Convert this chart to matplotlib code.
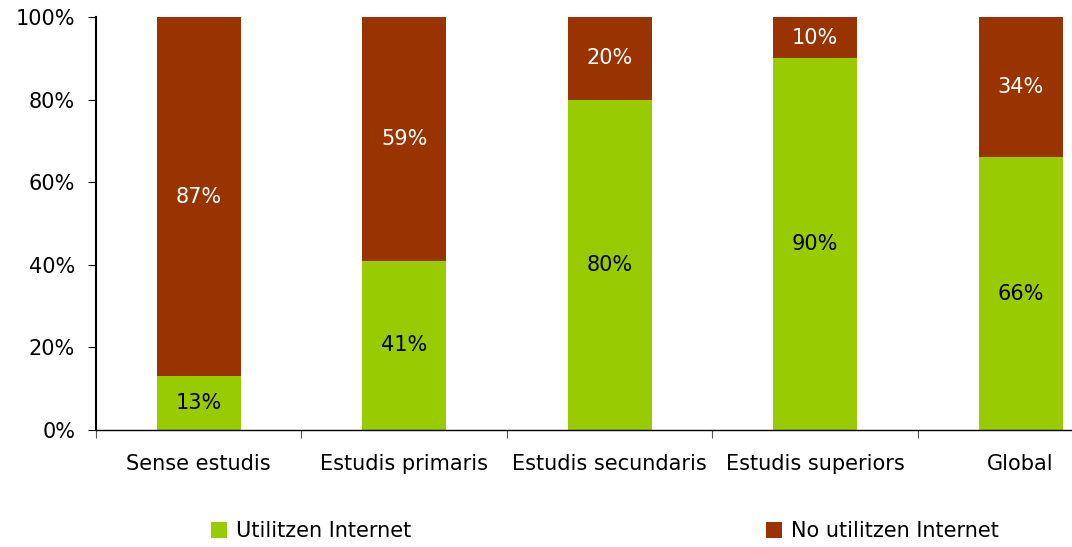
import matplotlib
matplotlib.use("Agg")
import matplotlib.pyplot as plt
import numpy as np

categories = ["Sense estudis", "Estudis primaris", "Estudis secundaris", "Estudis superiors", "Global"]
utilitzen = [13, 41, 80, 90, 66]
no_utilitzen = [87, 59, 20, 10, 34]
yticks = [0, 20, 40, 60, 80, 100]
ytick_labels = ["0%", "20%", "40%", "60%", "80%", "100%"]
series_names = ["Utilitzen Internet", "No utilitzen Internet"]

green = "#99CC00"
brown = "#993300"

plt.rcParams['font.family'] = ['DejaVu Sans']
fig = plt.figure(figsize=(10.72, 5.47), dpi=100)
W, H = 1072, 547
ax = fig.add_axes([96 / W, (H - 430) / H, (W - 96) / W, 413 / H])

x = np.arange(len(categories))
w = 0.41
b1 = ax.bar(x, utilitzen, w, color=green, label=series_names[0])
b2 = ax.bar(x, no_utilitzen, w, bottom=utilitzen, color=brown, label=series_names[1])

fs = 15
for i in range(len(categories)):
    ax.text(x[i], utilitzen[i] / 2, f"{utilitzen[i]}%", ha="center", va="center",
            color="black", fontsize=fs)
    ax.text(x[i], utilitzen[i] + no_utilitzen[i] / 2, f"{no_utilitzen[i]}%", ha="center",
            va="center", color="white", fontsize=fs)

ax.set_yticks(yticks)
ax.set_yticklabels(ytick_labels, fontsize=fs)
ax.set_xticks(np.arange(-0.5, len(categories), 1.0))
ax.set_xticklabels([])
ax.set_xticks(x, minor=True)
ax.set_xticklabels(categories, minor=True, fontsize=fs)
ax.set_xlim(-0.5, 4.25)
ax.set_ylim(0, 100)
ax.tick_params(axis="x", which="minor", length=0, pad=17)
ax.tick_params(axis="x", which="major", length=6, direction="out", color="#555555")
ax.tick_params(axis="y", length=6, direction="out", pad=9)
for s in ["top", "right"]:
    ax.spines[s].set_visible(False)
ax.spines["left"].set_linewidth(1.5)
ax.spines["bottom"].set_linewidth(1.0)

fig.legend([b1], [series_names[0]], loc="center left", bbox_to_anchor=(192 / W, (H - 531) / H),
           frameon=False, fontsize=fs, handlelength=0.8, handleheight=0.8, handletextpad=0.4)
fig.legend([b2], [series_names[1]], loc="center left", bbox_to_anchor=(747 / W, (H - 531) / H),
           frameon=False, fontsize=fs, handlelength=0.8, handleheight=0.8, handletextpad=0.4)

fig.savefig("out.png", dpi=100)
